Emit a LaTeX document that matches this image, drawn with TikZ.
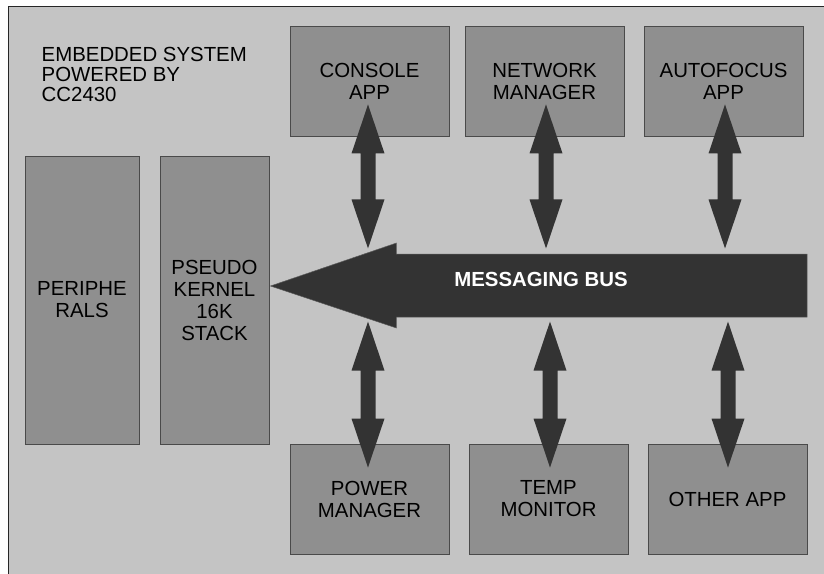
\documentclass[tikz,border=0pt]{standalone}
\usepackage{fontspec}
\setmainfont{Liberation Sans}
\usetikzlibrary{calc}
\definecolor{bgc}{HTML}{C4C4C4}
\definecolor{boxc}{HTML}{8F8F8F}
\definecolor{edgec}{HTML}{4A4A4A}
\definecolor{busc}{HTML}{333333}
\begin{document}
\begin{tikzpicture}[x=1pt,y=-1pt,
  blk/.style={draw=edgec, line width=0.9pt, fill=boxc, inner sep=0pt, align=center,
    font=\fontsize{20.4}{22}\selectfont, text=black},
  topbox/.style={blk, minimum width=159pt, minimum height=110pt},
  tallbox/.style={blk, minimum height=288pt},
  dblarrow/.style={fill=busc, draw=none},
]
\useasboundingbox (0,0) rectangle (824,573);
\fill[white] (0,0) rectangle (824,573);
% frame
\draw[fill=bgc, draw=black!85, line width=0.9pt] (8,600) -- (8,6) -- (840,6);
\fill[bgc] (8.5,6.5) rectangle (830,580);

\node[anchor=north west, inner sep=0pt, align=left, font=\fontsize{20.4}{20}\selectfont] (title) at (41.5,47)
  {EMBEDDED SYSTEM\\POWERED BY\\CC2430};

% top boxes
\node[topbox] (console) at (369.5,81) {CONSOLE\\APP};
\node[topbox] (network) at (544.5,81) {NETWORK\\MANAGER};
\node[topbox] (autofocus) at (723.5,81) {AUTOFOCUS\\APP};
% bottom boxes
\node[topbox] (power) at (369.5,499) {POWER\\MANAGER};
\node[topbox] (temp) at (548.5,499) {TEMP\\MONITOR};
\node[topbox] (other) at (727.5,499) {OTHER APP};
% tall boxes
\node[tallbox, minimum width=114pt] (periph) at (82,300) {PERIPHE\\RALS};
\node[tallbox, minimum width=109pt] (kernel) at (214.5,300) {PSEUDO\\KERNEL\\16K\\STACK};

% double arrows between a box and the bus: \mydbl{top tip}{bottom tip}
\newcommand{\mydbl}[2]{%
  \path[dblarrow] (#1) -- ($(#1)+(16.5,49)$) -- ($(#1)+(7.5,49)$) -- ($(#2)+(7.5,-49)$)
    -- ($(#2)+(16.5,-49)$) -- (#2) -- ($(#2)+(-16.5,-49)$) -- ($(#2)+(-7.5,-49)$)
    -- ($(#1)+(-7.5,49)$) -- ($(#1)+(-16.5,49)$) -- cycle;}
\coordinate (a1t) at ($(console.south)+(-1.5,-32)$);
\coordinate (a1b) at ($(console.south)+(-1.5,112)$);
\coordinate (a2t) at ($(network.south)+(1.5,-32)$);
\coordinate (a2b) at ($(network.south)+(1.5,112)$);
\coordinate (a3t) at ($(autofocus.south)+(1.5,-32)$);
\coordinate (a3b) at ($(autofocus.south)+(1.5,112)$);
\coordinate (b1t) at ($(power.north)+(-1.5,-122)$);
\coordinate (b1b) at ($(power.north)+(-1.5,24)$);
\coordinate (b2t) at ($(temp.north)+(1.5,-122)$);
\coordinate (b2b) at ($(temp.north)+(1.5,24)$);
\coordinate (b3t) at ($(other.north)+(0.5,-122)$);
\coordinate (b3b) at ($(other.north)+(0.5,24)$);
\mydbl{a1t}{a1b}
\mydbl{a2t}{a2b}
\mydbl{a3t}{a3b}
\mydbl{b1t}{b1b}
\mydbl{b2t}{b2b}
\mydbl{b3t}{b3b}

% messaging bus
\coordinate (bustip) at ($(kernel.east)+(1,-14)$);
\coordinate (busend) at (807,286);
\filldraw[fill=busc, draw=busc!80!white, line width=0.5pt] (bustip) -- ($(bustip)+(126,-43)$)
  -- ($(bustip)+(126,-32)$) -- ($(busend)+(0,-32)$) -- ($(busend)+(0,31)$)
  -- ($(bustip)+(126,31)$) -- ($(bustip)+(126,42)$) -- cycle;
\node[text=white, font=\fontsize{20.4}{22}\selectfont\bfseries, inner sep=0pt] (busl) at (541,279) {MESSAGING BUS};
\end{tikzpicture}
\end{document}
